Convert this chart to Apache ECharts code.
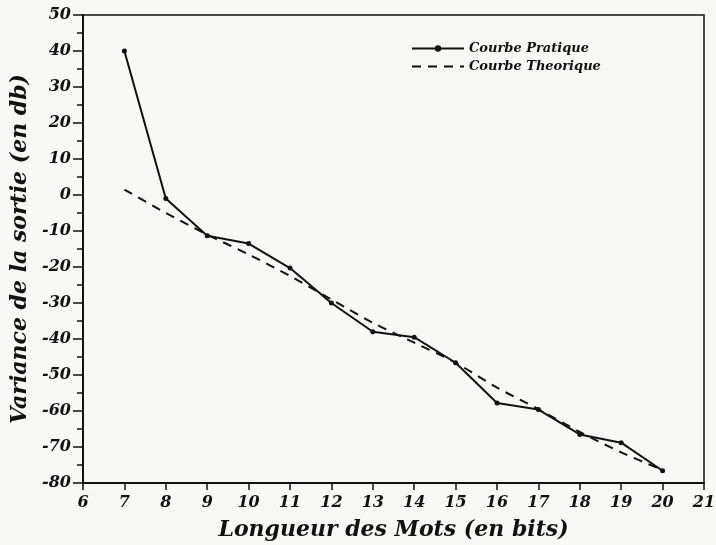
<!DOCTYPE html>
<html>
<head>
<meta charset="utf-8">
<script src="https://cdn.jsdelivr.net/npm/echarts@6/dist/echarts.min.js"></script>
<style>
  html, body { margin: 0; padding: 0; background: #f8f8f7; }
  #chart { width: 716px; height: 545px; }
</style>
</head>
<body>
<div id="chart"></div>
<script>
// Word length in bits
const bits = [7, 8, 9, 10, 11, 12, 13, 14, 15, 16, 17, 18, 19, 20];
// Measured output variance (dB)
const courbePratique = [40, -1, -11.3, -13.5, -20.3, -30, -38, -39.5, -46.6, -57.8, -59.6, -66.5, -68.8, -76.6];
// Theoretical output variance (dB)
const courbeTheorique = [1.5, -5, -11, -16.5, -22.5, -29, -35.5, -41, -46.6, -53.5, -59.5, -65.8, -71.5, -76.4];

const xTicks = { min: 6, max: 21, step: 1 };
const yTicks = { min: -80, max: 50, step: 10 };

const FONT = 'DejaVu Serif';
const textStyle = { fontFamily: FONT, fontStyle: 'italic', fontWeight: 'bold', color: '#111' };

const chart = echarts.init(document.getElementById('chart'), null, { renderer: 'canvas' });

chart.setOption({
  backgroundColor: '#f8f8f7',
  animation: false,
  grid: {
    left: 83, top: 15, right: 12, bottom: 62,
    outerBoundsMode: 'none',
    containLabel: false,
    show: true, borderColor: '#111', borderWidth: 1.5, backgroundColor: 'transparent'
  },
  legend: {
    orient: 'vertical',
    left: 406, top: 37,
    itemWidth: 52, itemHeight: 8, itemGap: 5,
    textStyle: Object.assign({}, textStyle, { fontSize: 13 }),
    data: [
      { name: 'Courbe Pratique' },
      { name: 'Courbe Theorique', itemStyle: { opacity: 0 } }
    ]
  },
  xAxis: {
    type: 'value',
    min: xTicks.min, max: xTicks.max, interval: xTicks.step,
    axisLine: { show: true, onZero: false, lineStyle: { color: '#111', width: 2 } },
    axisTick: { show: true, length: 7, lineStyle: { color: '#111', width: 1.5 } },
    axisLabel: Object.assign({}, textStyle, { fontSize: 16, margin: 12 }),
    splitLine: { show: false },
    name: 'Longueur des Mots (en bits)',
    nameLocation: 'middle', nameGap: 36,
    nameTextStyle: Object.assign({}, textStyle, { fontSize: 22 })
  },
  yAxis: {
    type: 'value',
    min: yTicks.min, max: yTicks.max, interval: yTicks.step,
    axisLine: { show: true, onZero: false, lineStyle: { color: '#111', width: 2 } },
    axisTick: { show: true, length: 10, lineStyle: { color: '#111', width: 1.5 } },
    minorTick: { show: true, splitNumber: 2, length: 6, lineStyle: { color: '#111', width: 1.5 } },
    axisLabel: Object.assign({}, textStyle, { fontSize: 16, margin: 12 }),
    splitLine: { show: false },
    name: 'Variance de la sortie (en db)',
    nameLocation: 'middle', nameGap: 50, nameRotate: 90,
    nameTextStyle: Object.assign({}, textStyle, { fontSize: 22 })
  },
  series: [
    {
      name: 'Courbe Pratique',
      type: 'line',
      data: bits.map((b, i) => [b, courbePratique[i]]),
      symbol: 'circle', symbolSize: 5,
      itemStyle: { color: '#111' },
      lineStyle: { color: '#111', width: 2 }
    },
    {
      name: 'Courbe Theorique',
      type: 'line',
      data: bits.map((b, i) => [b, courbeTheorique[i]]),
      smooth: 0.3,
      showSymbol: false, symbol: 'none',
      itemStyle: { color: '#111' },
      lineStyle: { color: '#111', width: 2, type: [9, 7] }
    }
  ]
});
</script>
</body>
</html>
